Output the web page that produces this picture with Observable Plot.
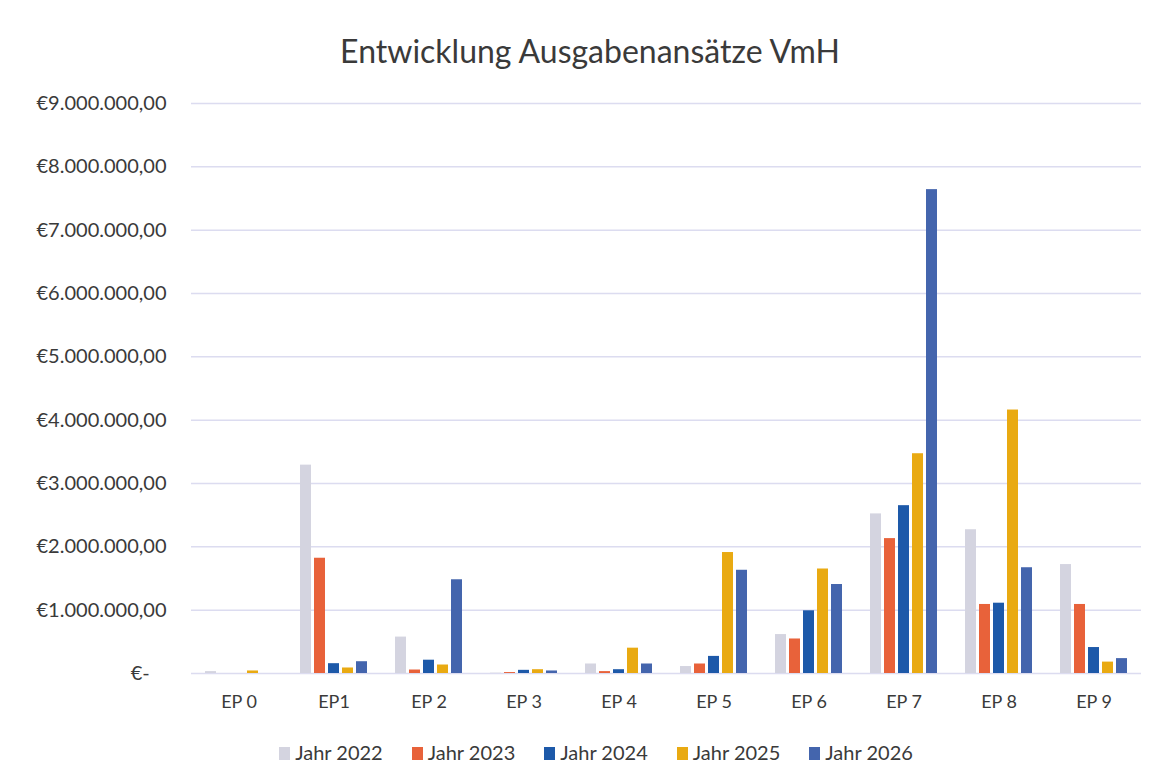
<!DOCTYPE html>
<html>
<head>
<meta charset="utf-8">
<script src="https://cdn.jsdelivr.net/npm/d3@7"></script>
<script src="https://cdn.jsdelivr.net/npm/@observablehq/plot@0.6"></script>
<style>
  html, body { margin: 0; padding: 0; background: #fff; }
  body { width: 1156px; height: 784px; position: relative; overflow: hidden; font-family: Lato, "Open Sans", sans-serif; color: #404040; }
  #title { position: absolute; left: 12px; top: 31px; width: 1156px; text-align: center; font-size: 32px; line-height: 40px; color: #3a3a3a; }
  #chart { position: absolute; left: 0; top: 88px; }
  #legend { position: absolute; left: 18px; top: 740px; width: 1156px; display: flex; justify-content: center; gap: 29px; font-size: 20px; line-height: 24px; color: #3a3a3a; }
  .item { display: flex; align-items: center; }
  .sw { width: 11px; height: 13px; margin-right: 5px; margin-top: 2px; }
</style>
</head>
<body>
<div id="title">Entwicklung Ausgabenansätze VmH</div>
<div id="chart"></div>
<div id="legend"></div>
<script>
const categories = ["EP 0", "EP1", "EP 2", "EP 3", "EP 4", "EP 5", "EP 6", "EP 7", "EP 8", "EP 9"];
const years = ["Jahr 2022", "Jahr 2023", "Jahr 2024", "Jahr 2025", "Jahr 2026"];
const v2022 = [30000, 3290000, 575000, 5000, 150000, 110000, 615000, 2520000, 2270000, 1720000];
const v2023 = [0, 1820000, 55000, 15000, 30000, 150000, 545000, 2130000, 1090000, 1090000];
const v2024 = [0, 155000, 210000, 50000, 60000, 270000, 990000, 2650000, 1110000, 410000];
const v2025 = [40000, 87000, 134000, 60000, 400000, 1910000, 1650000, 3470000, 4160000, 180000];
const v2026 = [0, 186000, 1480000, 40000, 150000, 1630000, 1405000, 7640000, 1670000, 235000];
const yTicks = [0, 1000000, 2000000, 3000000, 4000000, 5000000, 6000000, 7000000, 8000000, 9000000];
const colors = ["#d4d4e0", "#e8623a", "#1d59a9", "#e9aa12", "#4465ad"];

const series = [v2022, v2023, v2024, v2025, v2026];
const data = categories.flatMap((c, i) => years.map((y, j) => ({ep: c, year: y, value: series[j][i]})));

const loc = d3.formatLocale({decimal: ",", thousands: ".", grouping: [3], currency: ["€", ""]});
const f = loc.format("$,.2f");
const fmt = d => d === 0 ? "€-\u2007\u00a0" : f(d);

const plot = Plot.plot({
  width: 1156,
  height: 640,
  marginLeft: 190,
  marginRight: 15,
  marginTop: 15,
  marginBottom: 55,
  style: {fontFamily: "Lato, 'Open Sans', sans-serif", background: "white", color: "#3a3a3a", overflow: "visible"},
  fx: {domain: categories, padding: 0, label: null},
  x: {domain: years, paddingInner: 0.2, paddingOuter: 0.88, axis: null},
  y: {domain: [0, 9000000], axis: null},
  color: {domain: years, range: colors},
  marks: [
    Plot.gridY(yTicks, {stroke: "#dcdcf0", strokeOpacity: 1, strokeWidth: 1.5}),
    Plot.axisY(yTicks, {tickSize: 0, tickPadding: 25, tickFormat: fmt, fontSize: 20, fill: "#3a3a3a", label: null}),
    Plot.axisFx({anchor: "bottom", tickSize: 0, tickPadding: 22, fontSize: 18, fill: "#3a3a3a", label: null}),
    Plot.barY(data, {fx: "ep", x: "year", y: "value", fill: "year"})
  ]
});
document.getElementById("chart").appendChild(plot);

const legend = d3.select("#legend");
years.forEach((y, i) => {
  const it = legend.append("div").attr("class", "item");
  it.append("div").attr("class", "sw").style("background", colors[i]);
  it.append("span").text(y);
});
</script>
</body>
</html>
